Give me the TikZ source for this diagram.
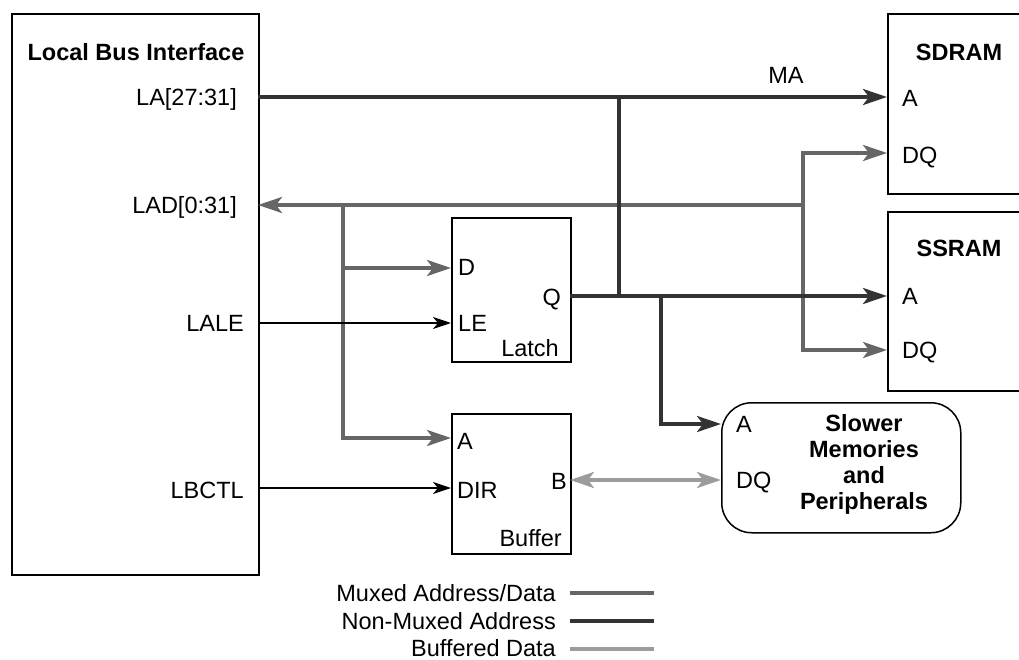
\documentclass[tikz,border=0pt]{standalone}
\usepackage{fontspec}
\setmainfont{Liberation Sans}
\usetikzlibrary{arrows.meta}
\definecolor{muxc}{HTML}{666666}
\definecolor{nonmuxc}{HTML}{333333}
\definecolor{bufc}{HTML}{9C9C9C}
\newcommand{\basefont}{\fontsize{23.5}{26}\selectfont}
\tikzset{
  Big/.tip={Stealth[length=24pt,width=16pt,inset=6pt]},
  Small/.tip={Stealth[length=18pt,width=12pt,inset=5pt]},
  box/.style={draw=black, line width=2.3pt, inner sep=0pt, anchor=north west},
  lbl/.style={inner sep=0pt, text height=16.8pt, text depth=0pt},
  ttl/.style={lbl, font=\basefont\bfseries},
  mux/.style={draw=muxc, line width=3.5pt},
  nonmux/.style={draw=nonmuxc, line width=3.5pt},
  bufd/.style={draw=bufc, line width=3.5pt},
  ctl/.style={draw=black, line width=2pt, -Small},
}
\begin{document}
\begin{tikzpicture}[x=1pt,y=-1pt,font=\basefont]
\useasboundingbox (0,0) rectangle (1019,660);
\clip (0,0) rectangle (1019,660);

% boxes
\node[box, minimum width=247pt, minimum height=561pt] (lbi) at (11,13) {};
\node[box, minimum width=150pt, minimum height=180pt] (sdram) at (887,13) {};
\node[box, minimum width=150pt, minimum height=179pt] (ssram) at (887,211) {};
\node[box, minimum width=119pt, minimum height=144pt] (latch) at (451,217) {};
\node[box, minimum width=119pt, minimum height=140pt] (buffer) at (451,413) {};
\node[draw=black, line width=1.5pt, rounded corners=30pt, inner sep=0pt, anchor=north west,
      minimum width=239pt, minimum height=130pt] (slower) at (721,402) {};

% titles and pin labels
\node[ttl] (tlbi) at (136,52) {Local Bus Interface};
\node[lbl, anchor=east] (tla) at (237,97) {LA[27:31]};
\node[lbl, anchor=east] (tlad) at (237,205) {LAD[0:31]};
\node[lbl, anchor=east] (tlale) at (244,323) {LALE};
\node[lbl, anchor=east] (tlbctl) at (244,490) {LBCTL};

\node[ttl] (tsdram) at (959,52) {SDRAM};
\node[lbl, anchor=west] (tsda) at (902,98) {A};
\node[lbl, anchor=west] (tsddq) at (902,155) {DQ};
\node[ttl] (tssram) at (959,248) {SSRAM};
\node[lbl, anchor=west] (tssa) at (902,296) {A};
\node[lbl, anchor=west] (tssdq) at (902,350) {DQ};

\node[lbl, anchor=west] (tlatd) at (458,267) {D};
\node[lbl, anchor=west] (tlatle) at (458,323) {LE};
\node[lbl, anchor=east] (tlatq) at (561,297) {Q};
\node[lbl, anchor=east] (tlatch) at (559,348) {Latch};

\node[lbl, anchor=west] (tbufa) at (457,441) {A};
\node[lbl, anchor=west] (tbufdir) at (457,490) {DIR};
\node[lbl, anchor=east] (tbufb) at (567,481) {B};
\node[lbl, anchor=east] (tbuffer) at (562,538) {Buffer};

\node[lbl, anchor=west] (tsla) at (736,424) {A};
\node[lbl, anchor=west] (tsldq) at (736,480) {DQ};
\node[font=\basefont\bfseries, align=center, inner sep=0pt] (tslower) at (864,464)
  {Slower\\Memories\\and\\Peripherals};

\node[lbl] (tma) at (786,75) {MA};

% pins and junctions
\coordinate (laOut) at (258,97);
\coordinate (sdA) at (887,97);
\coordinate (sdDQ) at (887,153);
\coordinate (ladOut) at (258,205);
\coordinate (ladR) at (803,205);
\coordinate (dqTop) at (803,153);
\coordinate (dqBot) at (803,350);
\coordinate (ssDQ) at (887,350);
\coordinate (ssA) at (887,296);
\coordinate (ladL) at (343,205);
\coordinate (latD) at (451,268);
\coordinate (bufA) at (451,438);
\coordinate (laleOut) at (258,323);
\coordinate (latLE) at (451,323);
\coordinate (lbctlOut) at (258,488);
\coordinate (bufDIR) at (451,488);
\coordinate (maTop) at (619,97);
\coordinate (maBot) at (619,296);
\coordinate (latQ) at (570,296);
\coordinate (slJ) at (661,296);
\coordinate (slA) at (721,424);
\coordinate (bufB) at (570,480);
\coordinate (slDQ) at (721,480);

% muxed address/data
\draw[mux, -Big] (ladR) -- (ladOut);
\draw[mux, Big-Big] (sdDQ) -- (dqTop) -- (dqBot) -- (ssDQ);
\draw[mux, -Big] (ladL) |- (latD);
\draw[mux, -Big] (ladL) |- (bufA);

% control
\draw[ctl] (laleOut) -- (latLE);
\draw[ctl] (lbctlOut) -- (bufDIR);

% non-muxed address
\draw[nonmux, -Big] (laOut) -- (sdA);
\draw[nonmux] (maTop) -- (maBot);
\draw[nonmux, -Big] (latQ) -- (ssA);
\draw[nonmux, -Big] (slJ) |- (slA);

% buffered data
\draw[bufd, Big-Big] (bufB) -- (slDQ);

% legend
\node[lbl, anchor=east] (lg1) at (556,593) {Muxed Address/Data};
\node[lbl, anchor=east] (lg2) at (556,621) {Non-Muxed Address};
\node[lbl, anchor=east] (lg3) at (556,648) {Buffered Data};
\coordinate (lg1a) at (570,593); \coordinate (lg1b) at (654,593);
\coordinate (lg2a) at (570,621); \coordinate (lg2b) at (654,621);
\coordinate (lg3a) at (570,649); \coordinate (lg3b) at (654,649);
\draw[mux] (lg1a) -- (lg1b);
\draw[nonmux] (lg2a) -- (lg2b);
\draw[bufd] (lg3a) -- (lg3b);
\end{tikzpicture}
\end{document}
